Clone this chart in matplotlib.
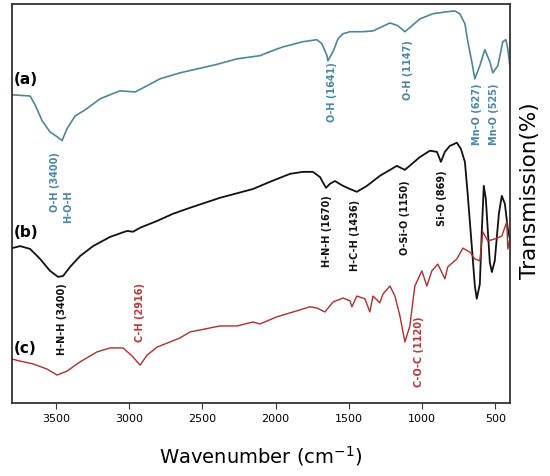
import matplotlib
matplotlib.use('Agg')
import matplotlib.pyplot as plt

# FTIR spectra, transmission in arbitrary units (curves are stacked)
wn_a = [3800, 3677, 3643, 3595, 3541, 3493, 3459, 3425, 3370, 3302, 3199, 3063, 2960, 2892,
        2790, 2653, 2414, 2264, 2107, 2039, 1950, 1813, 1718, 1684, 1649, 1643, 1608, 1574,
        1540, 1492, 1404, 1335, 1219, 1165, 1117, 1069, 1015, 926, 830, 776, 742, 707, 687,
        660, 639, 605, 571, 537, 516, 482, 448, 427, 414, 400]
t_a = [77.2, 76.9, 74.7, 70.7, 67.9, 66.7, 65.7, 68.7, 71.9, 73.4, 76.2, 78.2, 77.9, 79.2,
       81.2, 82.7, 84.7, 86.2, 87.0, 88.0, 89.2, 90.5, 91.0, 90.0, 87.0, 85.7, 88.0, 91.2,
       92.5, 93.0, 93.0, 93.2, 95.2, 94.5, 93.0, 94.5, 96.2, 97.5, 98.0, 98.2, 97.5, 95.0, 90.5,
       85.5, 81.2, 84.5, 88.5, 85.5, 82.7, 84.5, 90.5, 91.0, 88.7, 84.5]

wn_b = [3800, 3745, 3677, 3609, 3541, 3486, 3452, 3404, 3336, 3247, 3131, 3015, 2974, 2926,
        2810, 2701, 2585, 2380, 2155, 2039, 1902, 1813, 1745, 1697, 1656, 1629, 1595, 1540,
        1492, 1445, 1376, 1288, 1172, 1117, 1069, 1015, 946, 898, 871, 844, 810, 762, 735,
        707, 687, 660, 639, 626, 605, 591, 578, 564, 537, 523, 503, 475, 455, 434, 414, 400]
t_b = [38.8, 39.3, 38.6, 36.1, 33.1, 31.6, 31.8, 34.1, 36.8, 39.3, 41.6, 43.1, 42.9, 43.9,
       45.6, 47.4, 48.9, 51.4, 53.6, 55.4, 57.4, 57.9, 57.9, 56.6, 53.9, 54.9, 55.6, 54.4,
       53.6, 52.9, 54.4, 56.9, 59.4, 58.4, 59.9, 61.6, 63.2, 62.9, 60.4, 62.9, 64.4, 65.2, 63.7,
       60.4, 51.9, 39.3, 29.3, 26.1, 29.8, 43.6, 54.4, 51.1, 35.3, 32.8, 35.6, 47.4, 51.9, 49.9,
       43.6, 41.1]

wn_c = [3800, 3745, 3657, 3561, 3493, 3425, 3336, 3220, 3131, 3042, 2981, 2926, 2878, 2810,
        2721, 2653, 2585, 2380, 2264, 2155, 2107, 1991, 1854, 1766, 1718, 1663, 1608, 1540,
        1492, 1479, 1445, 1390, 1356, 1335, 1288, 1267, 1219, 1185, 1151, 1117, 1083, 1049,
        1001, 967, 933, 892, 844, 824, 762, 721, 673, 639, 605, 585, 550, 503, 455, 421, 414, 400]
t_c = [11.0, 10.5, 9.8, 8.5, 7.0, 8.0, 10.3, 12.8, 13.8, 13.8, 11.8, 9.5, 12.0, 14.0,
       15.3, 16.3, 17.8, 19.3, 19.3, 20.3, 19.8, 21.6, 23.1, 24.1, 23.8, 22.8, 25.3, 26.3,
       25.6, 24.1, 26.8, 26.1, 22.8, 26.8, 25.1, 27.3, 29.3, 26.8, 21.8, 15.3, 19.3, 29.3,
       33.1, 29.3, 33.1, 34.8, 31.1, 34.1, 36.1, 38.8, 37.8, 36.1, 35.6, 42.9, 40.6, 41.1,
       41.8, 45.4, 38.6, 41.1]

# peak labels: text, position (wavenumber, top of text), colour key
peak_text = ['O-H (3400)', 'H-O-H', 'O-H (1641)', 'O-H (1147)', 'Mn-O (627)', 'Mn-O (525)',
             'H-N-H (1670)', 'H-C-H (1436)', 'O-Si-O (1150)', 'Si-O (869)', 'H-N-H (3400)',
             'C-H (2916)', 'C-O-C (1120)']
peak_wn = [3506, 3418, 1615, 1096, 625, 509, 1649, 1458, 1117, 864, 3459, 2926, 1021]
peak_top = [63.2, 53.6, 85.7, 91.2, 80.4, 80.4, 52.4, 51.1, 56.1, 58.6, 30.3, 30.3, 21.8]
peak_set = ['a', 'a', 'a', 'a', 'a', 'a', 'b', 'b', 'b', 'b', 'b', 'c', 'c']

names = ['(a)', '(b)', '(c)']
name_t = [81.2, 42.9, 14.0]

line_col = {'a': '#4f8697', 'b': '#111111', 'c': '#a8312f'}
text_col = {'a': '#4a86a6', 'b': '#111111', 'c': '#b03a3a'}

fig = plt.figure(figsize=(5.5, 4.77), dpi=100)
ax = fig.add_axes([0.022, 0.153, 0.905, 0.837])

ax.plot(wn_a, t_a, color=line_col['a'], lw=1.2)
ax.plot(wn_b, t_b, color=line_col['b'], lw=1.3)
ax.plot(wn_c, t_c, color=line_col['c'], lw=1.0)

for txt, w, t, s in zip(peak_text, peak_wn, peak_top, peak_set):
    ax.text(w, t, txt, rotation=90, ha='center', va='top', fontsize=7,
            fontweight='bold', color=text_col[s])

for n, t in zip(names, name_t):
    ax.text(3786, t, n, ha='left', va='center', fontsize=11, fontweight='bold')

ax.set_xlim(3800, 400)
ax.set_ylim(0, 100)
ax.set_xticks([3500, 3000, 2500, 2000, 1500, 1000, 500])
ax.set_yticks([])
ax.tick_params(axis='x', labelsize=8, direction='out', length=4, color='#333333')
for sp in ax.spines.values():
    sp.set_linewidth(1.3)
    sp.set_color('#333333')

ax.set_xlabel('Wavenumber (cm$^{-1}$)', fontsize=14)
ax.xaxis.set_label_coords(0.5, -0.10)
ax.set_ylabel('Transmission(%)', fontsize=15.5)
ax.yaxis.set_label_position('right')
ax.yaxis.set_label_coords(1.02, 0.534)

fig.savefig('out.png', dpi=100)
